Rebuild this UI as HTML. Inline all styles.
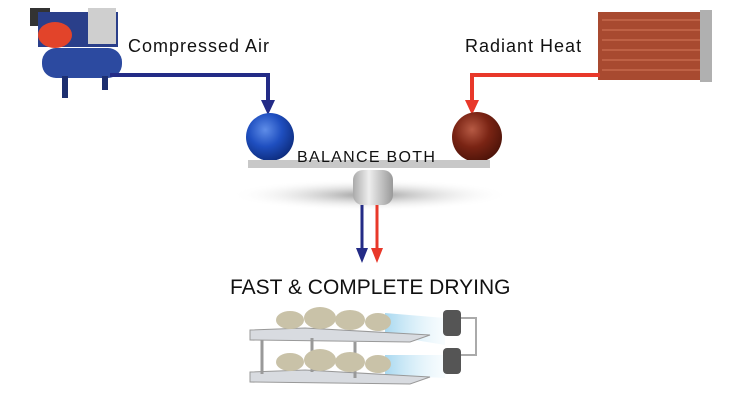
<!DOCTYPE html>
<html><head><meta charset="utf-8"><style>
body{margin:0;width:744px;height:400px;background:#fff;overflow:hidden;font-family:"Liberation Sans",sans-serif}
</style></head><body>
<svg width="744" height="400" viewBox="0 0 744 400" xmlns="http://www.w3.org/2000/svg">
<defs>
<radialGradient id="bb" cx="0.4" cy="0.35" r="0.7"><stop offset="0" stop-color="#5f8de8"/><stop offset="0.5" stop-color="#1f4fc0"/><stop offset="1" stop-color="#0c2a7a"/></radialGradient>
<radialGradient id="rb" cx="0.4" cy="0.35" r="0.7"><stop offset="0" stop-color="#b65a44"/><stop offset="0.5" stop-color="#7a2414"/><stop offset="1" stop-color="#4a1208"/></radialGradient>
<linearGradient id="cyl" x1="0" x2="1"><stop offset="0" stop-color="#aaa"/><stop offset="0.4" stop-color="#eee"/><stop offset="1" stop-color="#999"/></linearGradient>
<radialGradient id="sh" cx="0.5" cy="0.5" r="0.5"><stop offset="0" stop-color="#999"/><stop offset="1" stop-color="#fff" stop-opacity="0"/></radialGradient>
<linearGradient id="beam" x1="0" x2="1"><stop offset="0" stop-color="#a8d8f0"/><stop offset="1" stop-color="#e8f6fc" stop-opacity="0.3"/></linearGradient>
</defs>
<!-- compressor -->
<rect x="30" y="8" width="20" height="18" fill="#333"/>
<rect x="38" y="12" width="80" height="35" fill="#2a3f8a"/>
<ellipse cx="55" cy="35" rx="17" ry="13" fill="#e2442a"/>
<rect x="88" y="8" width="28" height="36" fill="#cfcfcf"/>
<rect x="42" y="48" width="80" height="30" rx="14" fill="#2c4aa0"/>
<rect x="62" y="76" width="6" height="22" fill="#1d2f70"/>
<rect x="102" y="76" width="6" height="14" fill="#1d2f70"/>
<text x="128" y="52" font-size="18" letter-spacing="1" fill="#111">Compressed Air</text>
<polyline points="110,75 268,75 268,103" fill="none" stroke="#232b86" stroke-width="4"/>
<polygon points="261,100 275,100 268,115" fill="#232b86"/>
<!-- heater -->
<rect x="598" y="12" width="112" height="68" fill="#a84a30"/>
<g stroke="#c6694c" stroke-width="1.5"><line x1="602" y1="20" x2="700" y2="20"/><line x1="602" y1="30" x2="700" y2="30"/><line x1="602" y1="40" x2="700" y2="40"/><line x1="602" y1="50" x2="700" y2="50"/><line x1="602" y1="60" x2="700" y2="60"/><line x1="602" y1="70" x2="700" y2="70"/></g>
<rect x="700" y="10" width="12" height="72" fill="#b0b0b0"/>
<text x="465" y="52" font-size="18" letter-spacing="1" fill="#111">Radiant Heat</text>
<polyline points="600,75 472,75 472,103" fill="none" stroke="#e8382a" stroke-width="4"/>
<polygon points="465,100 479,100 472,115" fill="#e8382a"/>
<!-- balance -->
<ellipse cx="370" cy="195" rx="140" ry="16" fill="url(#sh)"/>
<circle cx="270" cy="137" r="24" fill="url(#bb)"/>
<circle cx="477" cy="137" r="25" fill="url(#rb)"/>
<rect x="248" y="160" width="242" height="8" fill="#c8c8c8"/>
<text x="297" y="162" font-size="16" letter-spacing="1.3" fill="#111">BALANCE BOTH</text>
<rect x="353" y="170" width="40" height="35" rx="10" fill="url(#cyl)"/>
<line x1="362" y1="205" x2="362" y2="250" stroke="#232b86" stroke-width="3"/>
<polygon points="356,248 368,248 362,263" fill="#232b86"/>
<line x1="377" y1="205" x2="377" y2="250" stroke="#e8382a" stroke-width="3"/>
<polygon points="371,248 383,248 377,263" fill="#e8382a"/>
<text x="230" y="294" font-size="21" fill="#111">FAST &amp; COMPLETE DRYING</text>
<!-- rack -->
<polygon points="385,313 445,318 445,345 385,335" fill="url(#beam)"/>
<polygon points="385,355 445,355 445,378 385,375" fill="url(#beam)"/>
<polygon points="250,330 305,328 430,335 410,342 250,340" fill="#d8dbe0" stroke="#999"/>
<polygon points="250,372 305,370 430,377 410,384 250,382" fill="#d8dbe0" stroke="#999"/>
<g stroke="#999" stroke-width="3"><line x1="262" y1="340" x2="262" y2="374"/><line x1="312" y1="338" x2="312" y2="372"/><line x1="355" y1="342" x2="355" y2="378"/></g>
<g fill="#c9c2a8"><ellipse cx="290" cy="320" rx="14" ry="9"/><ellipse cx="320" cy="318" rx="16" ry="11"/><ellipse cx="350" cy="320" rx="15" ry="10"/><ellipse cx="378" cy="322" rx="13" ry="9"/>
<ellipse cx="290" cy="362" rx="14" ry="9"/><ellipse cx="320" cy="360" rx="16" ry="11"/><ellipse cx="350" cy="362" rx="15" ry="10"/><ellipse cx="378" cy="364" rx="13" ry="9"/></g>
<rect x="443" y="310" width="18" height="26" rx="4" fill="#555"/>
<rect x="443" y="348" width="18" height="26" rx="4" fill="#555"/>
<polyline points="461,318 476,318 476,355 461,355" fill="none" stroke="#aaa" stroke-width="2"/>
</svg>
</body></html>
